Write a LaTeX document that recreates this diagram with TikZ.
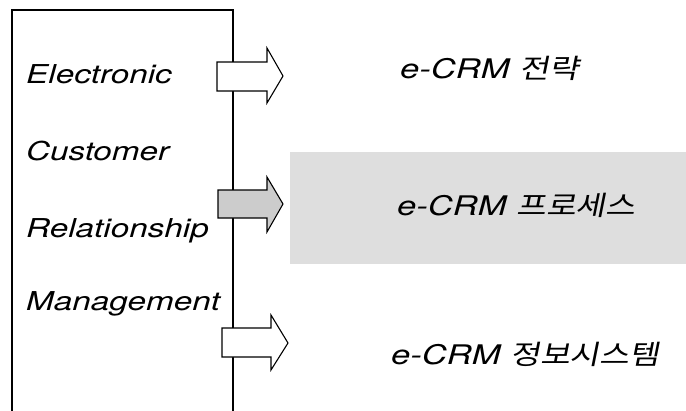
\documentclass[tikz,border=0pt]{standalone}
\usepackage{fontspec}
\setmainfont{TeX Gyre Heros}[ItalicFeatures={FakeStretch=1.28}]
\newfontfamily\krfont{Noto Sans CJK KR}[FakeSlant=0.2,FakeStretch=1.2]
\usepackage{tikz}

\begin{document}
\begin{tikzpicture}[x=1pt,y=-1pt,
  word/.style={anchor=base west,inner sep=0pt,font=\fontsize{26}{30}\selectfont\itshape},
  goal/.style={anchor=base west,inner sep=0pt,font=\fontsize{27}{30}\selectfont\itshape},
  blk/.style={draw,line width=1.1pt,fill=white,line join=miter},
  frame/.style={line width=1.4pt}]
			\useasboundingbox (0,0) rectangle (686,410);
			% shaded band behind the process label
			\fill[black!13] (290,152) rectangle (686,264);
			\draw[frame] (12,412) -- (12,10) -- (233,10) -- (233,412);
			\node[word] (E) at (26,83) {Electronic};
			\node[word] (C) at (26,160) {Customer};
			\node[word] (R) at (26,237) {Relationship};
			\node[word] (M) at (26,310) {Management};
			\draw[blk] (217,62) -- (267,62) -- (267,48) -- (283,76) -- (267,103) -- (267,91) -- (217,91) -- cycle;
			\draw[blk,fill=black!20] (218,190) -- (267,190) -- (267,177) -- (283,204) -- (267,232) -- (267,218) -- (218,218) -- cycle;
			\draw[blk] (222,328) -- (271,328) -- (271,315) -- (288,343) -- (271,370) -- (271,357) -- (222,357) -- cycle;
			\node[goal] (S1) at (400,78) {e-CRM {\krfont 전략}};
			\node[goal] (S2) at (397,215) {e-CRM {\krfont 프로세스}};
			\node[goal] (S3) at (391,364) {e-CRM {\krfont 정보시스템}};
		\end{tikzpicture}
\end{document}
